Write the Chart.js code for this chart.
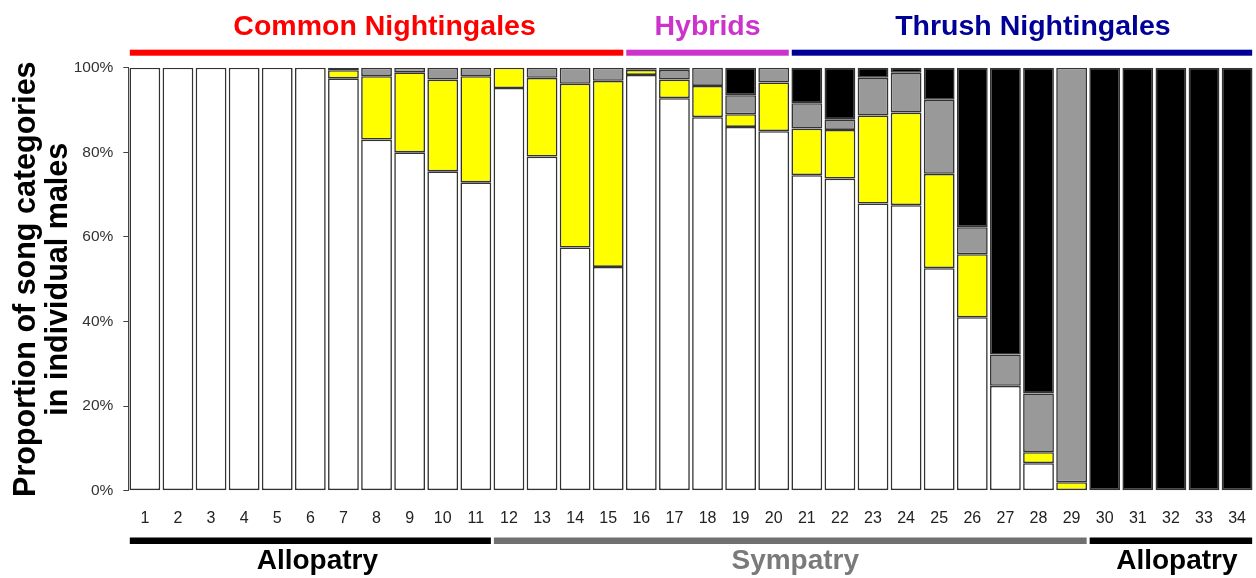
<!DOCTYPE html>
<html>
<head>
<meta charset="utf-8">
<script src="https://cdn.jsdelivr.net/npm/chart.js@4.4.1/dist/chart.umd.min.js"></script>
<style>
  html, body { margin: 0; padding: 0; background: #fff; overflow: hidden; }
  #wrap { width: 1256px; height: 578px; position: relative; }
</style>
</head>
<body>
<div id="wrap"><canvas id="c"></canvas></div>
<script>
// males 1..34, share of each song category (%), stacked bottom -> top
const males = ['1','2','3','4','5','6','7','8','9','10','11','12','13','14','15','16','17',
               '18','19','20','21','22','23','24','25','26','27','28','29','30','31','32','33','34'];

const whiteShare  = [100,100,100,100,100,100,97.5,83.0,80.0,75.5,72.9,95.2,79.0,57.5,52.9,98.3,92.8,
                     88.3,86.0,85.0,74.6,73.8,67.9,67.5,52.6,41.0,24.8,6.5,0,0,0,0,0,0];
const yellowShare = [0,0,0,0,0,0,1.9,15.0,18.9,21.7,25.1,4.8,18.6,38.7,44.0,1.2,4.4,
                     7.4,3.0,11.5,11.0,11.5,20.8,21.9,22.3,14.9,0,2.6,2.0,0,0,0,0,0];
const greyShare   = [0,0,0,0,0,0,0.6,2.0,1.1,2.8,2.0,0,2.4,3.8,3.1,0,2.3,
                     4.3,4.5,3.5,6.0,2.5,8.9,9.4,17.5,6.4,7.4,13.9,98.0,0,0,0,0,0];
const blackShare  = [0,0,0,0,0,0,0,0,0,0,0,0,0,0,0,0.5,0.5,
                     0,6.5,0,8.4,12.2,2.4,1.2,7.6,37.7,67.8,77.0,0,100,100,100,100,100];

const yTicks = [0, 20, 40, 60, 80, 100];

// group brackets (index ranges into males)
const speciesLabels = ['Common Nightingales', 'Hybrids', 'Thrush Nightingales'];
const speciesRanges = [[0, 14], [15, 19], [20, 33]];
const speciesColors = ['#ff0000', '#cc33cc', '#000099'];
const speciesShift  = [8, 0, 11];

const areaLabels = ['Allopatry', 'Sympatry', 'Allopatry'];
const areaRanges = [[0, 10], [11, 28], [29, 33]];
const areaColors = ['#000000', '#707070', '#000000'];
const areaShift  = [7, 5, 6];

const FONT = "'Liberation Sans', Arial, sans-serif";

const groupsPlugin = {
  id: 'groups',
  afterDraw(chart) {
    const { ctx, scales: { x } } = chart;
    const half = (x.getPixelForValue(1) - x.getPixelForValue(0)) / 2;
    const span = ([a, b]) => [x.getPixelForValue(a) - half + 1.5, x.getPixelForValue(b) + half - 1.5];

    ctx.save();
    ctx.textAlign = 'center';
    ctx.textBaseline = 'alphabetic';

    ctx.font = `bold 28.5px ${FONT}`;
    speciesRanges.forEach((r, i) => {
      const [l, rgt] = span(r);
      ctx.fillStyle = speciesColors[i];
      ctx.fillRect(l, 49.7, rgt - l, 6);
      ctx.fillText(speciesLabels[i], (l + rgt) / 2 + speciesShift[i], 35);
    });

    ctx.font = `bold 28px ${FONT}`;
    areaRanges.forEach((r, i) => {
      const [l, rgt] = span(r);
      ctx.fillStyle = areaColors[i];
      ctx.fillRect(l, 537.5, rgt - l, 6.5);
      ctx.fillStyle = i === 1 ? '#7a7a7a' : '#000';
      ctx.fillText(areaLabels[i], (l + rgt) / 2 + areaShift[i], 569);
    });
    ctx.restore();
  }
};

function seg(label, data, color) {
  return {
    label, data,
    backgroundColor: color,
    borderColor: '#333333',
    borderWidth: 1.6,
    borderSkipped: false,
    barPercentage: 0.93,
    categoryPercentage: 1.0
  };
}

new Chart(document.getElementById('c'), {
  type: 'bar',
  data: {
    labels: males,
    datasets: [
      seg('White', whiteShare, '#ffffff'),
      seg('Yellow', yellowShare, '#ffff00'),
      seg('Grey', greyShare, '#999999'),
      seg('Black', blackShare, '#000000')
    ]
  },
  options: {
    responsive: true,
    maintainAspectRatio: false,
    animation: false,
    layout: { padding: { top: 67.7, right: -5, left: 0, bottom: 0 } },
    plugins: { legend: { display: false }, tooltip: { enabled: false } },
    scales: {
      x: {
        stacked: true,
        grid: { display: false },
        border: { display: false },
        ticks: { color: '#222', padding: 10, font: { family: FONT, size: 16 }, maxRotation: 0, autoSkip: false },
        afterFit: (s) => { s.height = 87.3; }
      },
      y: {
        stacked: true,
        min: 0, max: 100,
        afterBuildTicks: (s) => { s.ticks = yTicks.map(v => ({ value: v })); },
        ticks: { color: '#333', padding: 10, font: { family: FONT, size: 15.5 }, callback: (v) => v + '%' },
        grid: { display: true, drawOnChartArea: false, drawTicks: true, tickLength: 5, color: '#444' },
        border: { display: true, color: '#444', width: 1 },
        title: {
          display: true,
          text: ['Proportion of song categories', 'in individual males'],
          color: '#000',
          font: { family: FONT, size: 30.5, weight: 'bold', lineHeight: 1.05 },
          padding: { top: 11, bottom: 0 }
        },
        afterFit: (s) => { s.width = 128.3; }
      }
    }
  },
  plugins: [groupsPlugin]
});
</script>
</body>
</html>
